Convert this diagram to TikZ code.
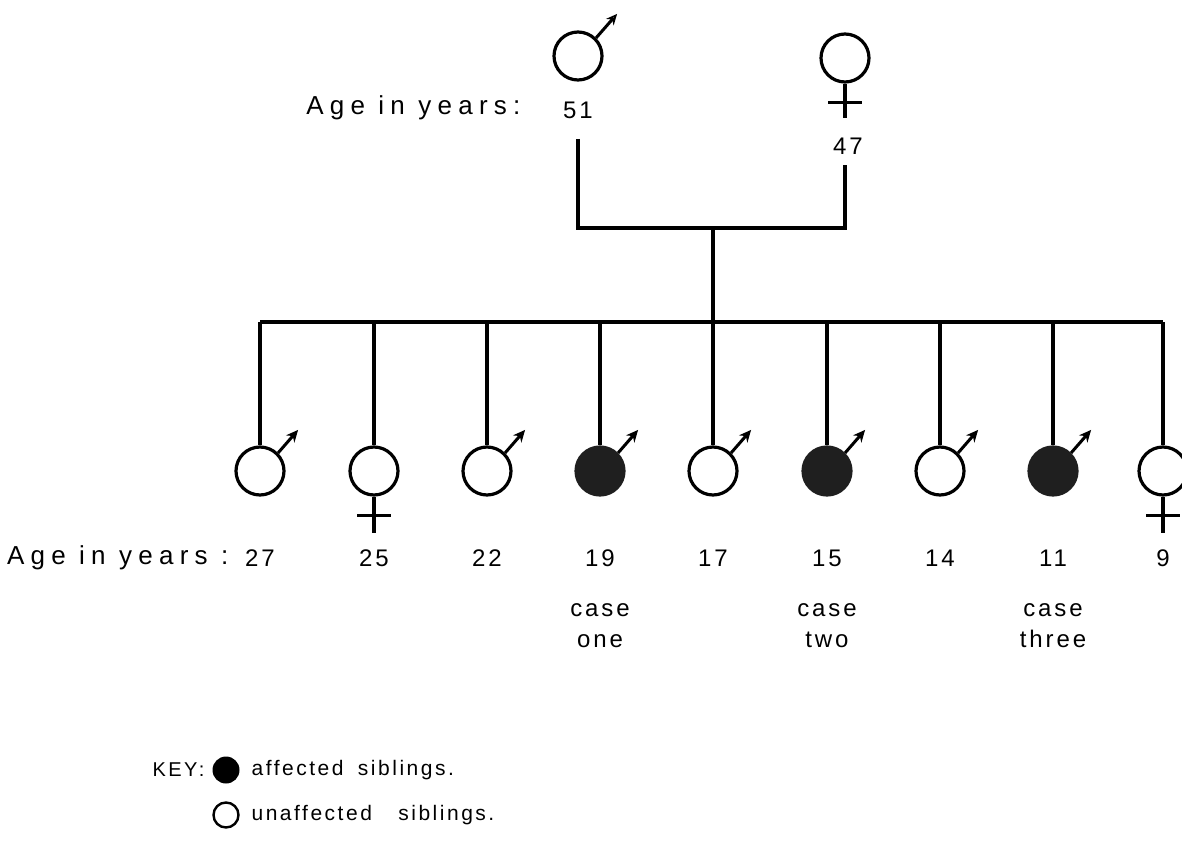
\documentclass[tikz,border=0pt]{standalone}
\usepackage{fontspec}
\setmainfont{Liberation Sans}[LetterSpace=12]
\newfontfamily\agefont{Liberation Sans}[LetterSpace=24]
\usetikzlibrary{arrows.meta}
\begin{document}
\begin{tikzpicture}[x=1pt,y=-1pt,
  line width=3.2pt,
  person/.style={circle,draw,minimum size=48pt,inner sep=0pt,line width=3.2pt},
  affected/.style={person,fill=black!88,draw=black!88},
  lbl/.style={inner sep=0pt,font=\fontsize{24}{28}\selectfont},
  agelbl/.style={inner sep=0pt,font=\agefont\fontsize{26}{30}\selectfont,anchor=east},
  keylbl/.style={inner sep=0pt,font=\fontsize{21}{24}\selectfont,anchor=west},
  maletip/.style={-{Stealth[length=12pt,width=11pt]},line width=3pt},
  pmaletip/.style={-{Stealth[open,length=11pt,width=10pt,line width=1.8pt]},line width=3pt}
]
\useasboundingbox (0,0) rectangle (1182,845);
\clip (0,0) rectangle (1182,845);
\fill[white] (0,0) rectangle (1182,845);

% parents
\node[person] (p1) at (578,56) {};
\node[person] (p2) at (845,58) {};
\draw[pmaletip] (p1.45) -- ++(21,-24);
\draw (p2.south) -- ++(0,34) coordinate (p2end);
\draw ([shift={(-17,19)}]p2.south) -- ++(34,0);
\node[lbl] (a51) at (578,110) {51};
\node[lbl] (a47) at (848,146) {47};
\node[agelbl] (agetop) at (522,108) {Age in years:};

\coordinate (j1) at (578,139);
\coordinate (j2) at (845,165);
\coordinate (mid) at (713,228);
\coordinate (bar) at (713,322);
\draw (j1) -- (j1 |- mid) -- (j2 |- mid) -- (j2);
\draw (mid) -- (bar);

% children
\foreach \i/\x/\s/\a in {1/260/m/0,2/374/f/0,3/487/m/0,4/600/m/1,5/713/m/0,6/827/m/1,7/940/m/0,8/1053/m/1,9/1163/f/0}{
  \ifnum\a=1
    \node[affected] (c\i) at (\x,471) {};
  \else
    \node[person] (c\i) at (\x,471) {};
  \fi
  \draw (c\i.north) -- (c\i.north |- bar);
  \if m\s
    \draw[maletip] (c\i.45) -- ++(20,-23);
  \else
    \draw (c\i.south) -- ++(0,36);
    \draw ([shift={(-17,19)}]c\i.south) -- ++(34,0);
  \fi
}
\draw (c1.north |- bar) -- (c9.north |- bar);

% ages
\node[agelbl] (agebot) at (230,558) {Age in years :};
\foreach \i/\t in {1/27,2/25,3/22,4/19,5/17,6/15,7/14,8/11,9/9}{
  \node[lbl] (n\i) at (c\i.center |- 0,558) {\t};
}
\node[lbl,align=center] (case1) at (c4.center |- 0,626) {case\\[3pt]one};
\node[lbl,align=center] (case2) at (c6.center |- 0,626) {case\\[3pt]two};
\node[lbl,align=center] (case3) at (c8.center |- 0,626) {case\\[3pt]three};

% key
\node[inner sep=0pt,font=\fontsize{20}{22}\selectfont,anchor=east] (key) at (206,770) {KEY:};
\node[circle,fill=black,minimum size=27pt,inner sep=0pt] (kfill) at (226,770) {};
\node[circle,draw,line width=2.4pt,minimum size=25pt,inner sep=0pt] (kopen) at (226,815) {};
\node[keylbl] (kaff) at (250,770) {affected\hspace{6pt} siblings.};
\node[keylbl] (kun) at (250,815) {unaffected\hspace{18pt} siblings.};
\end{tikzpicture}
\end{document}
